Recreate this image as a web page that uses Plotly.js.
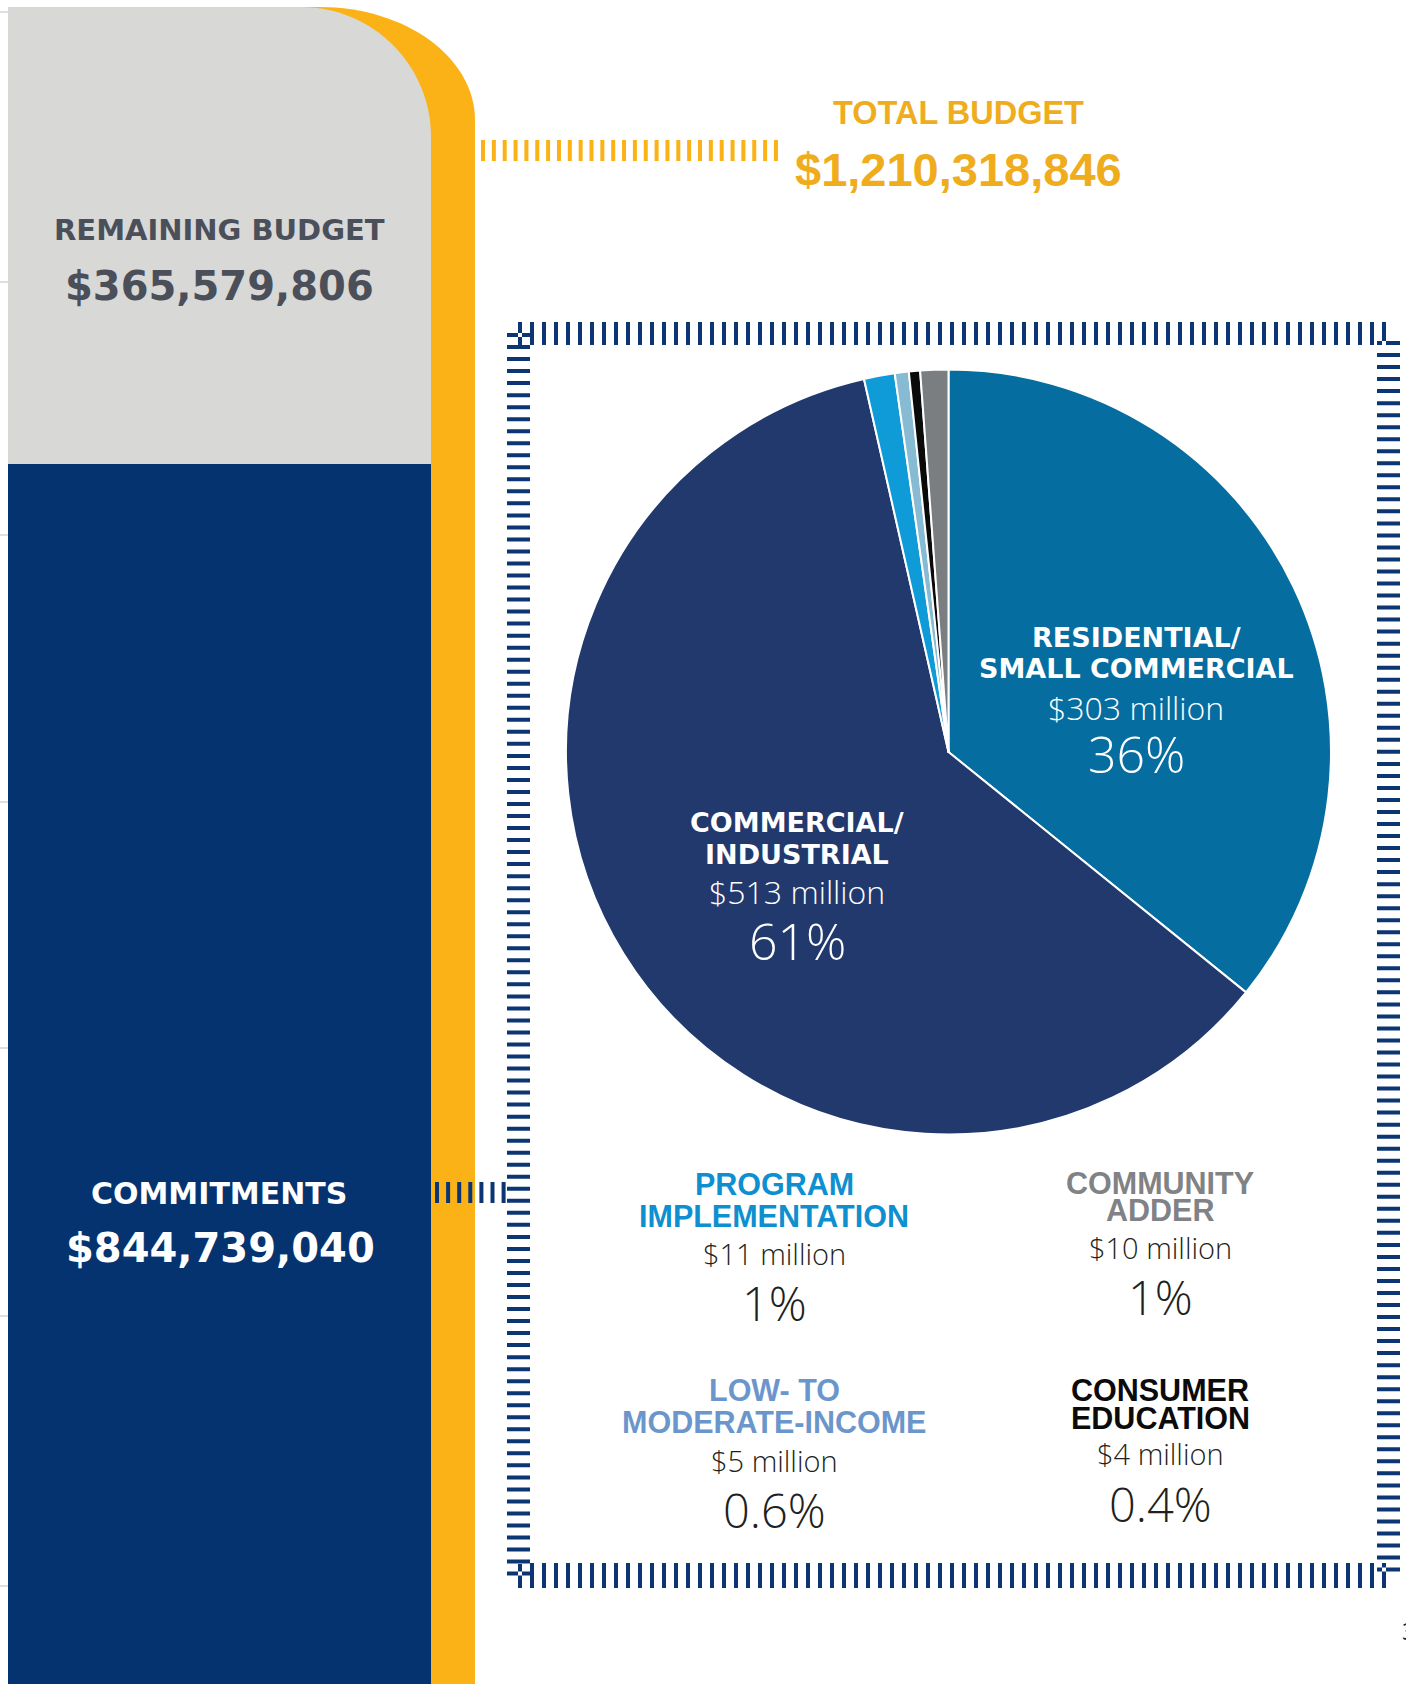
<!DOCTYPE html>
<html>
<head>
<meta charset="utf-8">
<script src="https://cdn.plot.ly/plotly-3.0.1.min.js"></script>
<style>
  html, body { margin: 0; padding: 0; background: #ffffff; }
  #chart { width: 1406px; height: 1684px; }
</style>
</head>
<body>
<div id="chart"></div>
<script>
// ---------------- DATA ----------------
const categories = ['Residential/Small Commercial', 'Commercial/Industrial', 'Program Implementation',
                    'Low- to Moderate-Income', 'Consumer Education', 'Community Adder'];
const amountsMillion = [303, 513, 11, 5, 4, 10];
const percentLabels = ['36%', '61%', '1%', '0.6%', '0.4%', '1%'];
const titleLines = [
  ['RESIDENTIAL/', 'SMALL COMMERCIAL'],
  ['COMMERCIAL/', 'INDUSTRIAL'],
  ['PROGRAM', 'IMPLEMENTATION'],
  ['LOW- TO', 'MODERATE-INCOME'],
  ['CONSUMER', 'EDUCATION'],
  ['COMMUNITY', 'ADDER']
];
const budgetLabels = ['TOTAL BUDGET', 'REMAINING BUDGET', 'COMMITMENTS'];
const budgetAmounts = [1210318846, 365579806, 844739040];
const pageNumber = '3';

// ---------------- STYLES / LAYOUT HELPERS ----------------
const sliceColors = ['#056d9f', '#22396e', '#0f9bd7', '#87bad3', '#0a0a0a', '#7b7e81'];
const titleColors = ['#ffffff', '#ffffff', '#0e8fd0', '#6b96cc', '#0b0b0b', '#808285'];
const valueColors = ['#ffffff', '#ffffff', '#231f20', '#231f20', '#231f20', '#231f20'];
const inside = [true, true, false, false, false, false];
// label anchor positions (page pixels): x, title line ys, amount y, percent y
const labelPos = [
  {x: 1136, t: [637, 668], a: 707, p: 754},
  {x: 797,  t: [822, 854], a: 891, p: 941},
  {x: 774,  t: [1184, 1216], a: 1253, p: 1303},
  {x: 774,  t: [1390, 1422], a: 1460, p: 1510},
  {x: 1160, t: [1390, 1418], a: 1453, p: 1504},
  {x: 1160, t: [1183, 1210], a: 1247, p: 1297}
];

const W = 1406, H = 1684;
const fmt = n => '$' + n.toLocaleString('en-US');

function rectPath(rects) {
  return rects.map(r => `M${r[0]},${r[1]} H${r[2]} V${r[3]} H${r[0]} Z`).join(' ');
}
function hDashes(x0, step, n, y0, y1, w) { // vertical bars placed along a horizontal run
  const out = [];
  for (let k = 0; k < n; k++) { const c = x0 + step * k; out.push([c - w / 2, y0, c + w / 2, y1]); }
  return out;
}
function vDashes(y0, step, n, x0, x1, h) { // horizontal bars placed along a vertical run
  const out = [];
  for (let k = 0; k < n; k++) { const c = y0 + step * k; out.push([x0, c - h / 2, x1, c + h / 2]); }
  return out;
}

const navy = '#0b3673';
const shapes = [];
// left-edge light tick lines
[12, 282, 535, 802, 1048, 1316, 1586].forEach(y => shapes.push({
  type: 'line', xref: 'x', yref: 'y', x0: 0, x1: 8, y0: y, y1: y,
  line: {color: '#d4d4d4', width: 1.5}, layer: 'below'
}));
// orange side band with rounded corner
shapes.push({type: 'path', xref: 'x', yref: 'y', layer: 'below',
  path: 'M8,7 L320,7 C405.6,7 475,57.6 475,120 L475,1684 L8,1684 Z',
  fillcolor: '#fbb216', line: {width: 0}});
// grey remaining budget block
shapes.push({type: 'path', xref: 'x', yref: 'y', layer: 'below',
  path: 'M8,7 L301,7 C372.8,7 431,65.2 431,137 L431,464 L8,464 Z',
  fillcolor: '#d8d8d6', line: {width: 0}});
// navy commitments block
shapes.push({type: 'rect', xref: 'x', yref: 'y', layer: 'below',
  x0: 8, x1: 431, y0: 464, y1: 1684, fillcolor: '#05336f', line: {width: 0}});
// orange connector dashes
shapes.push({type: 'path', xref: 'x', yref: 'y', layer: 'below',
  path: rectPath(hDashes(483, 10.85, 28, 140, 161, 4)), fillcolor: '#fbb216', line: {width: 0}});
// navy connector dashes from commitments
shapes.push({type: 'path', xref: 'x', yref: 'y', layer: 'below',
  path: rectPath(hDashes(437, 11.1, 7, 1182, 1203, 4)), fillcolor: navy, line: {width: 0}});
// dashed frame around pie
const frame = []
  .concat(hDashes(520, 12, 73, 322, 345, 4))          // top
  .concat(hDashes(520, 12, 73, 1563, 1588, 4))        // bottom
  .concat(vDashes(335, 12.025, 104, 507, 530, 4))     // left
  .concat(vDashes(343, 12.025, 103, 1377, 1400, 4));  // right
shapes.push({type: 'path', xref: 'x', yref: 'y', layer: 'below',
  path: rectPath(frame), fillcolor: navy, line: {width: 0}});

// ---------------- ANNOTATIONS ----------------
const ann = [];
function txt(x, y, text, size, color, family, weight, extra) {
  ann.push(Object.assign({
    xref: 'x', yref: 'y', x: x, y: y, text: text, showarrow: false,
    xanchor: 'center', yanchor: 'middle',
    font: {family: family, size: size, color: color, weight: weight}
  }, extra || {}));
}
const BOLD_WIDE = 'DejaVu Sans, Open Sans, sans-serif';
const LIGHT = 'Open Sans, Lato, sans-serif';
const SANS = 'Liberation Sans, Arial, sans-serif';

// budget texts
txt(958, 113, budgetLabels[0], 32.5, '#efac1c', SANS, 700);
txt(958, 169, fmt(budgetAmounts[0]), 47, '#efac1c', SANS, 700);
txt(219, 230, budgetLabels[1], 29, '#4a4f59', BOLD_WIDE, 700);
txt(219, 286, fmt(budgetAmounts[1]), 40, '#4a4f59', BOLD_WIDE, 700);
txt(219, 1193, budgetLabels[2], 30, '#ffffff', BOLD_WIDE, 700);
txt(220, 1248, fmt(budgetAmounts[2]), 40, '#ffffff', BOLD_WIDE, 700);

// category labels
categories.forEach((c, i) => {
  const p = labelPos[i];
  const amountText = '$' + amountsMillion[i] + ' million';
  if (inside[i]) {
    titleLines[i].forEach((line, j) => txt(p.x, p.t[j], line, 27, titleColors[i], BOLD_WIDE, 700));
    txt(p.x, p.a, amountText, 32, valueColors[i], LIGHT, 300);
    txt(p.x, p.p, percentLabels[i], 50, valueColors[i], LIGHT, 300);
  } else {
    titleLines[i].forEach((line, j) => txt(p.x, p.t[j], line, 30.5, titleColors[i], SANS, 700));
    txt(p.x, p.a, amountText, 29, valueColors[i], LIGHT, 300);
    txt(p.x, p.p, percentLabels[i], 47, valueColors[i], LIGHT, 300);
  }
});
// page number (cut at edge, as in the source page)
txt(1400, 1630, pageNumber, 24, '#231f20', LIGHT, 400, {xanchor: 'left'});

// ---------------- TRACES ----------------
const pieCx = 948.5, pieCy = 752, pieR = 382.5;
const traces = [
  {type: 'scatter', x: [], y: [], hoverinfo: 'skip', showlegend: false},
  {
    type: 'pie',
    labels: categories,
    values: amountsMillion,
    sort: false,
    direction: 'clockwise',
    rotation: 0,
    textinfo: 'none',
    hoverinfo: 'skip',
    showlegend: false,
    marker: {colors: sliceColors, line: {color: '#ffffff', width: 2}},
    domain: {
      x: [(pieCx - pieR) / W, (pieCx + pieR) / W],
      y: [1 - (pieCy + pieR) / H, 1 - (pieCy - pieR) / H]
    }
  }
];

const layout = {
  width: W, height: H,
  margin: {l: 0, r: 0, t: 0, b: 0, pad: 0},
  paper_bgcolor: '#ffffff', plot_bgcolor: 'rgba(0,0,0,0)',
  showlegend: false,
  xaxis: {range: [0, W], visible: false, fixedrange: true},
  yaxis: {range: [H, 0], visible: false, fixedrange: true},
  shapes: shapes,
  annotations: ann
};

Plotly.newPlot('chart', traces, layout, {staticPlot: true, displayModeBar: false});
</script>
</body>
</html>
